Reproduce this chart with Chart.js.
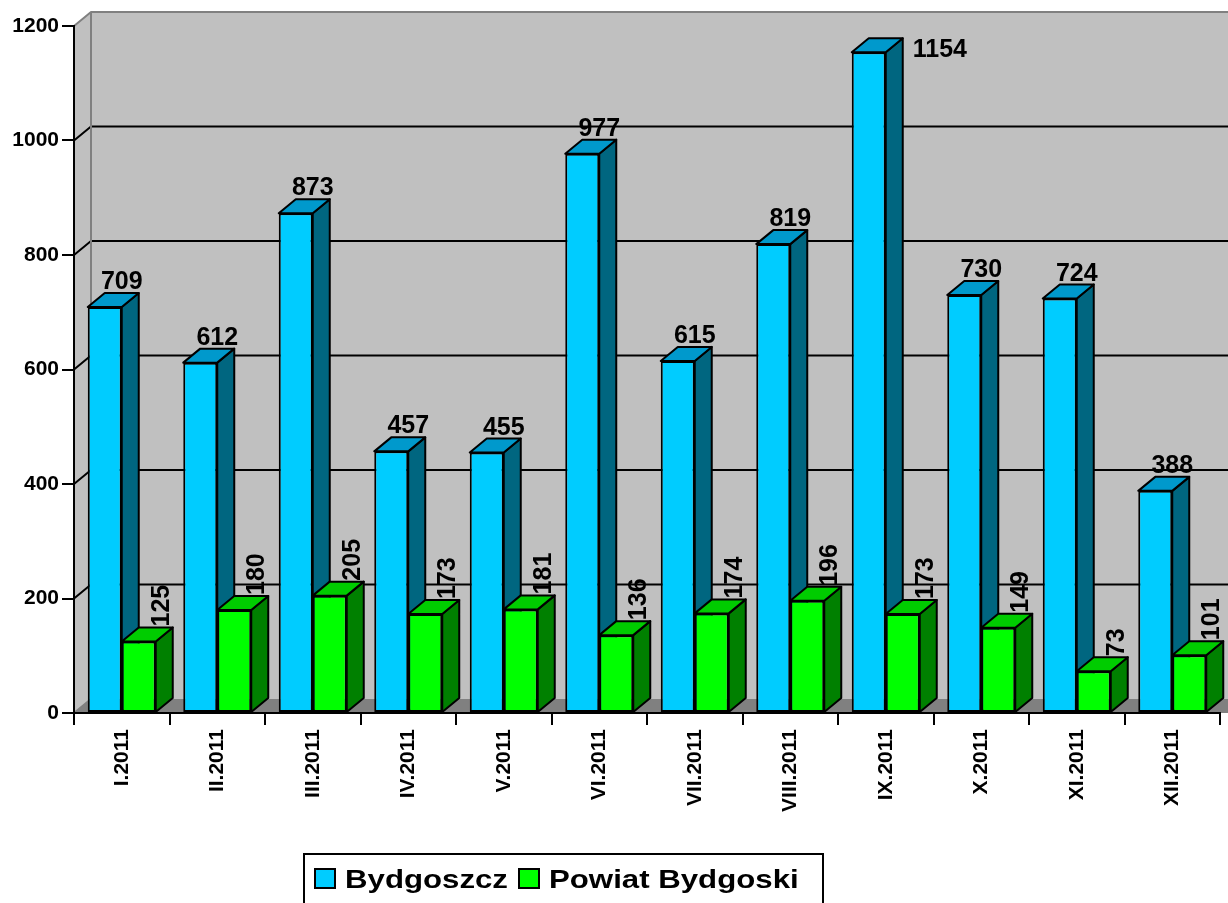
<!DOCTYPE html>
<html>
<head>
<meta charset="utf-8">
<script src="https://cdn.jsdelivr.net/npm/chart.js@4.4.1/dist/chart.umd.min.js"></script>
<style>
  html, body { margin: 0; padding: 0; background: #ffffff; }
  #c { display: block; }
</style>
</head>
<body>
<canvas id="c" width="1228" height="903"></canvas>
<script>
// ---- data ----
const categories = ["I.2011","II.2011","III.2011","IV.2011","V.2011","VI.2011","VII.2011","VIII.2011","IX.2011","X.2011","XI.2011","XII.2011"];
const bydgoszcz = [709, 612, 873, 457, 455, 977, 615, 819, 1154, 730, 724, 388];
const powiat = [125, 180, 205, 173, 181, 136, 174, 196, 173, 149, 73, 101];
const seriesNames = ["Bydgoszcz", "Powiat Bydgoski"];
const yTicks = [0, 200, 400, 600, 800, 1000, 1200];

// ---- style ----
const DX = 17, DY = -14;
const FONT = "'Liberation Sans', Arial, sans-serif";
const faces = [
  { front: '#00CCFF', top: '#0099CC', side: '#006680' },
  { front: '#00FF00', top: '#00CC00', side: '#008000' }
];

Chart.defaults.font.family = FONT;
Chart.defaults.color = '#000';

function poly(ctx, pts, fill, stroke, lw) {
  ctx.beginPath();
  ctx.moveTo(pts[0][0], pts[0][1]);
  for (let i = 1; i < pts.length; i++) ctx.lineTo(pts[i][0], pts[i][1]);
  ctx.closePath();
  if (fill) { ctx.fillStyle = fill; ctx.fill(); }
  if (stroke) { ctx.strokeStyle = stroke; ctx.lineWidth = lw || 2; ctx.stroke(); }
}

const wallsPlugin = {
  id: 'walls',
  beforeDraw(chart) {
    const { ctx, chartArea: a, scales } = chart;
    const y = scales.y;
    const L = a.left, R = a.right, T = a.top, B = a.bottom;
    ctx.save();
    ctx.lineJoin = 'round';
    // back wall
    poly(ctx, [[L + DX, T + DY], [R + DX + 20, T + DY], [R + DX + 20, B + DY], [L + DX, B + DY]], '#C0C0C0');
    // left wall
    poly(ctx, [[L, T], [L + DX, T + DY], [L + DX, B + DY], [L, B]], '#C0C0C0');
    // floor
    poly(ctx, [[L, B], [L + DX, B + DY], [R + DX + 20, B + DY], [R + 20, B]], '#808080');
    // gridlines
    ctx.strokeStyle = '#000';
    ctx.lineWidth = 2;
    yTicks.forEach(v => {
      if (v === 0 || v === yTicks[yTicks.length - 1]) return;
      const py = y.getPixelForValue(v);
      ctx.beginPath();
      ctx.moveTo(L, py);
      ctx.lineTo(L + DX, py + DY);
      ctx.lineTo(R + DX + 20, py + DY);
      ctx.stroke();
    });
    // wall edges (gray)
    ctx.strokeStyle = '#808080';
    ctx.lineWidth = 2;
    ctx.beginPath();
    ctx.moveTo(L, T);
    ctx.lineTo(L + DX, T + DY);
    ctx.lineTo(R + DX + 20, T + DY);
    ctx.moveTo(L + DX, T + DY);
    ctx.lineTo(L + DX, B + DY);
    ctx.lineTo(L, B);
    ctx.stroke();
    ctx.restore();
  },
  beforeDatasetsDraw(chart) {
    const { ctx } = chart;
    ctx.save();
    ctx.lineJoin = 'round';
    const n = chart.data.labels.length;
    for (let j = 0; j < n; j++) {
      chart.data.datasets.forEach((ds, i) => {
        const el = chart.getDatasetMeta(i).data[j];
        const p = el.getProps(['x', 'y', 'base', 'width'], true);
        const x0 = p.x - p.width / 2, x1 = p.x + p.width / 2;
        const f = faces[i];
        // side face
        poly(ctx, [[x1, p.y], [x1 + DX, p.y + DY], [x1 + DX, p.base + DY], [x1, p.base]], f.side, '#000', 2);
        // top face
        poly(ctx, [[x0, p.y], [x0 + DX, p.y + DY], [x1 + DX, p.y + DY], [x1, p.y]], f.top, '#000', 2);
      });
    }
    ctx.restore();
  },
  afterDatasetsDraw(chart) {
    const { ctx, chartArea: a } = chart;
    ctx.save();
    ctx.fillStyle = '#000';
    // blue labels (horizontal)
    ctx.font = 'bold 25px ' + FONT;
    chart.getDatasetMeta(0).data.forEach((el, j) => {
      const p = el.getProps(['x', 'y', 'base', 'width'], true);
      const txt = String(chart.data.datasets[0].data[j]);
      const by = p.y + DY - 4;
      if (by - 19 < a.top) {
        ctx.textAlign = 'left';
        ctx.textBaseline = 'alphabetic';
        ctx.fillText(txt, p.x + p.width / 2 + DX + 10, p.y + 5);
      } else {
        ctx.textAlign = 'center';
        ctx.textBaseline = 'alphabetic';
        ctx.fillText(txt, p.x + DX, by);
      }
    });
    // green labels (rotated)
    chart.getDatasetMeta(1).data.forEach((el, j) => {
      const p = el.getProps(['x', 'y', 'base', 'width'], true);
      const txt = String(chart.data.datasets[1].data[j]);
      ctx.save();
      ctx.translate(p.x + DX + 6, p.y + DY - 1);
      ctx.rotate(-Math.PI / 2);
      ctx.textAlign = 'left';
      ctx.textBaseline = 'middle';
      ctx.fillText(txt, 0, 0);
      ctx.restore();
    });
    ctx.restore();
  },
  afterDraw(chart) {
    const { ctx } = chart;
    ctx.save();
    // legend box
    ctx.strokeStyle = '#000';
    ctx.lineWidth = 2;
    ctx.strokeRect(304, 854, 519, 70);
    const items = [
      { sx: 315, tx: 345 },
      { sx: 519, tx: 549 }
    ];
    ctx.font = 'bold 26px ' + FONT;
    ctx.textBaseline = 'alphabetic';
    ctx.textAlign = 'left';
    chart.data.datasets.forEach((ds, i) => {
      const it = items[i];
      ctx.fillStyle = ds.backgroundColor;
      ctx.fillRect(it.sx, 869, 20, 19);
      ctx.strokeStyle = '#000';
      ctx.lineWidth = 2;
      ctx.strokeRect(it.sx, 869, 20, 19);
      ctx.fillStyle = '#000';
      ctx.save();
      ctx.translate(it.tx, 888);
      ctx.scale(1.2, 1);
      ctx.fillText(ds.label, 0, 0);
      ctx.restore();
    });
    ctx.restore();
  }
};

new Chart(document.getElementById('c'), {
  type: 'bar',
  data: {
    labels: categories,
    datasets: [
      { label: seriesNames[0], data: bydgoszcz, backgroundColor: faces[0].front, borderColor: '#000', borderWidth: 2, borderSkipped: false },
      { label: seriesNames[1], data: powiat, backgroundColor: faces[1].front, borderColor: '#000', borderWidth: 2, borderSkipped: false }
    ]
  },
  options: {
    responsive: false,
    animation: false,
    devicePixelRatio: 1,
    layout: { padding: { top: 26, right: 8, left: 0, bottom: 0 } },
    categoryPercentage: 0.712,
    barPercentage: 1.0,
    plugins: {
      legend: { display: false },
      tooltip: { enabled: false }
    },
    scales: {
      x: {
        afterFit: s => { s.height = 190; },
        grid: { offset: true, drawOnChartArea: false, drawTicks: true, tickLength: 12, color: '#000', lineWidth: 2 },
        border: { display: true, color: '#000', width: 2 },
        ticks: { minRotation: 90, maxRotation: 90, autoSkip: false, padding: 4, color: '#000', font: { size: 21, weight: 'bold' } }
      },
      y: {
        min: 0, max: 1200,
        afterFit: s => { s.width = 74; },
        afterBuildTicks: s => { s.ticks = yTicks.map(v => ({ value: v })); },
        grid: { drawOnChartArea: false, drawTicks: true, tickLength: 12, color: '#000', lineWidth: 2 },
        border: { display: true, color: '#000', width: 2 },
        ticks: { padding: 3, color: '#000', font: { size: 21, weight: 'bold' }, callback: v => String(v) }
      }
    }
  },
  plugins: [wallsPlugin]
});
</script>
</body>
</html>
